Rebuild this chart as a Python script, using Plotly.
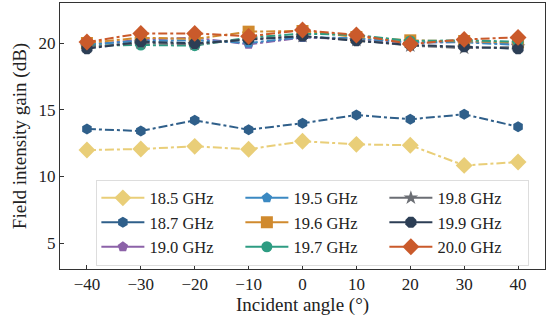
import plotly.graph_objects as go

angles = [-40, -30, -20, -10, 0, 10, 20, 30, 40]

freq_labels = ["18.5 GHz", "18.7 GHz", "19.0 GHz", "19.5 GHz", "19.6 GHz",
               "19.7 GHz", "19.8 GHz", "19.9 GHz", "20.0 GHz"]

gain_18_5 = [11.97, 12.05, 12.25, 12.03, 12.63, 12.40, 12.33, 10.82, 11.07]
gain_18_7 = [13.55, 13.40, 14.20, 13.50, 13.98, 14.60, 14.28, 14.65, 13.72]
gain_19_0 = [19.85, 20.25, 20.40, 19.90, 20.40, 20.30, 20.00, 20.10, 19.90]
gain_19_5 = [19.90, 20.15, 20.20, 20.00, 20.45, 20.35, 20.05, 20.05, 19.85]
gain_19_6 = [20.00, 20.40, 20.30, 20.85, 20.90, 20.45, 20.20, 20.15, 20.05]
gain_19_7 = [19.80, 19.85, 19.80, 20.40, 20.70, 20.60, 20.15, 20.20, 20.10]
gain_19_8 = [19.70, 20.00, 19.90, 20.30, 20.50, 20.20, 19.80, 19.62, 19.70]
gain_19_9 = [19.57, 20.10, 19.97, 20.27, 20.52, 20.17, 19.85, 19.72, 19.57]
gain_20_0 = [20.07, 20.72, 20.72, 20.50, 20.97, 20.60, 19.92, 20.27, 20.42]

series = [gain_18_5, gain_18_7, gain_19_0, gain_19_5, gain_19_6,
          gain_19_7, gain_19_8, gain_19_9, gain_20_0]

colors = ["#E9CE78", "#2F5F8A", "#8C62A8", "#3B89C2", "#D08A2E",
          "#2E9C82", "#6B6E74", "#2C3E55", "#CA5A2B"]
symbols = ["diamond", "hexagon", "pentagon", "pentagon", "square",
           "circle", "star", "octagon", "diamond"]
sizes = [13, 11, 11, 11, 12, 11, 11, 12, 13]

# legend is laid out row by row; ranks give a column-wise reading order
legend_ranks = [1, 4, 7, 2, 5, 8, 3, 6, 9]

fig = go.Figure()
for name, ys, c, s, sz in zip(freq_labels, series, colors, symbols, sizes):
    fig.add_trace(go.Scatter(
        x=angles, y=ys, name=name, mode="lines+markers",
        line=dict(color=c, width=2, dash="dashdot"),
        marker=dict(symbol=s, size=sz, color=c, line=dict(width=0)),
        showlegend=False, legendgroup=name,
    ))

# legend keys use solid line samples
for name, c, s, sz, rk in zip(freq_labels, colors, symbols, sizes, legend_ranks):
    fig.add_trace(go.Scatter(
        x=[None], y=[None], name=name, mode="lines+markers",
        line=dict(color=c, width=2),
        marker=dict(symbol=s, size=sz, color=c, line=dict(width=0)),
        legendrank=rk, legendgroup=name,
    ))

font_family = "Liberation Serif, Times New Roman, serif"
axis_common = dict(
    showline=True, linecolor="#333333", linewidth=1, mirror=True,
    ticks="inside", ticklen=4, tickcolor="#333333", tickwidth=1,
    showgrid=False, zeroline=False,
    tickfont=dict(family=font_family, size=17, color="#222222"),
)

fig.update_layout(
    width=547, height=320,
    margin=dict(l=60, r=2, t=3, b=51),
    paper_bgcolor="white", plot_bgcolor="white",
    font=dict(family=font_family, color="#222222"),
    xaxis=dict(range=[-45, 45], tickvals=angles,
               ticktext=["\u221240", "\u221230", "\u221220", "\u221210", "0",
                         "10", "20", "30", "40"],
               title=dict(text="Incident angle (\u00b0)",
                          font=dict(family=font_family, size=19), standoff=3),
               **axis_common),
    yaxis=dict(range=[3.05, 23.0], tickvals=[5, 10, 15, 20],
               title=dict(text="Field intensity gain (dB)",
                          font=dict(family=font_family, size=19), standoff=6),
               **axis_common),
    legend=dict(
        orientation="h", x=0.075, y=0.336, xanchor="left", yanchor="top",
        entrywidth=86, entrywidthmode="pixels",
        bgcolor="rgba(255,255,255,0.8)", bordercolor="#DDDDDD", borderwidth=1,
        font=dict(family=font_family, size=16.5, color="#222222"),
        tracegroupgap=0, itemwidth=43, groupclick="togglegroup",
    ),
    showlegend=True,
)

fig.write_html("out.html")
